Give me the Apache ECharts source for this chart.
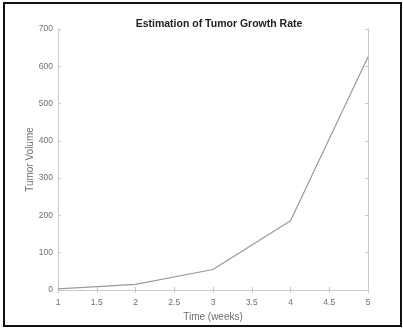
<!DOCTYPE html>
<html>
<head>
<meta charset="utf-8">
<script src="https://cdn.jsdelivr.net/npm/echarts@6/dist/echarts.min.js"></script>
<style>
html,body{margin:0;padding:0;background:#fff;}
#chart{width:403px;height:328px;}
</style>
</head>
<body>
<div id="chart"></div>
<script>
const weeks = [1, 2, 3, 4, 5];
const tumorVolume = [3, 15, 55, 186, 625];
const titleText = 'Estimation of Tumor Growth Rate';
const xName = 'Time (weeks)';
const yName = 'Tumor Volume';

const chart = echarts.init(document.getElementById('chart'), null, {renderer: 'canvas'});
const font = 'Liberation Sans, Arial, sans-serif';
const axisCol = '#c8c8c8';
const labelCol = '#6e6e6e';
const tick = {show: true, inside: true, length: 3, lineStyle: {color: axisCol}};
chart.setOption({
  animation: false,
  backgroundColor: '#fff',
  title: {
    text: titleText, left: 214, top: 14, textAlign: 'center',
    textStyle: {fontFamily: font, fontSize: 10.5, fontWeight: 'bold', color: '#222'}
  },
  grid: {left: 58, right: 35, top: 29, bottom: 38, show: false},
  xAxis: [{
    type: 'value', min: 1, max: 5, interval: 0.5,
    name: xName, nameLocation: 'middle', nameGap: 21,
    nameTextStyle: {fontFamily: font, fontSize: 10, color: labelCol},
    axisLine: {show: true, lineStyle: {color: axisCol}},
    axisTick: tick,
    axisLabel: {fontFamily: font, fontSize: 8.5, color: labelCol, margin: 8},
    splitLine: {show: false}
  }, {
    type: 'value', min: 1, max: 5, interval: 0.5, position: 'top',
    axisLine: {show: true, lineStyle: {color: axisCol}},
    axisTick: tick, axisLabel: {show: false}, splitLine: {show: false}
  }],
  yAxis: [{
    type: 'value', min: 0, max: 700, interval: 100,
    name: yName, nameLocation: 'middle', nameGap: 23, nameMoveOverlap: false,
    nameTextStyle: {fontFamily: font, fontSize: 10, color: labelCol},
    axisLine: {show: true, lineStyle: {color: axisCol}},
    axisTick: tick,
    axisLabel: {fontFamily: font, fontSize: 8.5, color: labelCol, margin: 5},
    splitLine: {show: false}
  }, {
    type: 'value', min: 0, max: 700, interval: 100, position: 'right',
    axisLine: {show: true, lineStyle: {color: axisCol}},
    axisTick: tick, axisLabel: {show: false}, splitLine: {show: false}
  }],
  graphic: [{
    type: 'rect', silent: true,
    shape: {x: 4, y: 3, width: 397, height: 323},
    style: {fill: 'none', stroke: '#111', lineWidth: 2}
  }],
  series: [{
    type: 'line',
    data: weeks.map((w, i) => [w, tumorVolume[i]]),
    showSymbol: false,
    lineStyle: {color: '#9a9a9a', width: 1.2}
  }]
});
</script>
</body>
</html>
